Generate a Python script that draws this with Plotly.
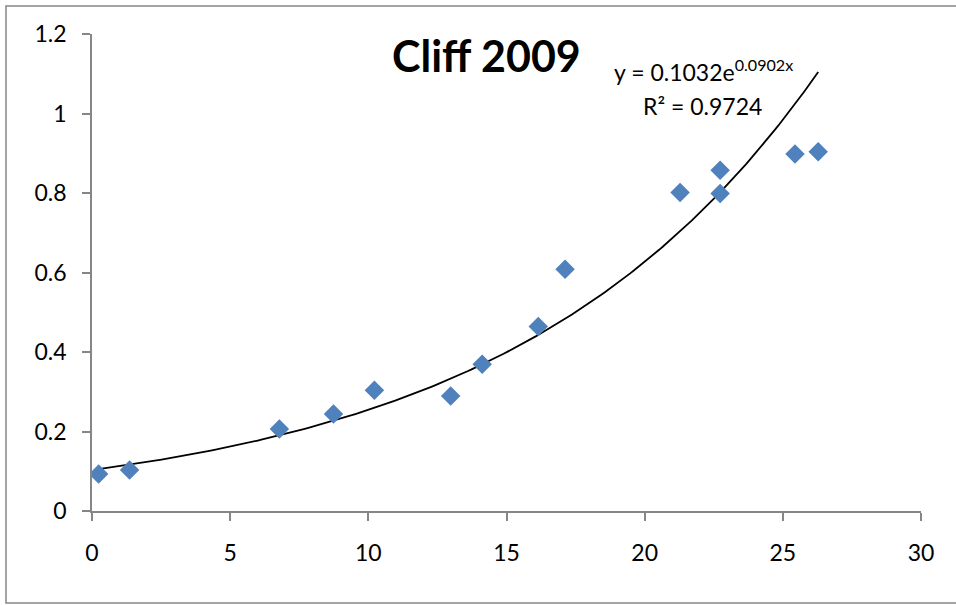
import numpy as np
import plotly.graph_objects as go

# Measurements (Cliff 2009)
x_vals = [0.24, 1.36, 6.78, 8.74, 10.22, 12.98, 14.12, 16.15, 17.12, 21.28, 22.73, 22.73, 25.44, 26.28]
y_vals = [0.093, 0.103, 0.206, 0.244, 0.304, 0.289, 0.369, 0.464, 0.608, 0.801, 0.857, 0.799, 0.898, 0.904]

# Exponential trendline y = a * exp(b x)
fit_a = 0.1032
fit_b = 0.0902
r_squared = 0.9724

x_ticks = [0, 5, 10, 15, 20, 25, 30]
y_ticks = [0, 0.2, 0.4, 0.6, 0.8, 1, 1.2]

W, H = 956, 605
ML, MR, MT, MB = 92, 35, 34, 94
PW, PH = W - ML - MR, H - MT - MB

GRAY = "#868686"
BLUE = "#4F81BD"
FONT = "Lato"

xf = np.linspace(min(x_vals), max(x_vals), 200)
yf = fit_a * np.exp(fit_b * xf)

fig = go.Figure()
fig.add_trace(go.Scatter(
    x=xf, y=yf, mode="lines",
    line=dict(color="black", width=1.8),
    hoverinfo="skip", showlegend=False,
))
fig.add_trace(go.Scatter(
    x=x_vals, y=y_vals, mode="markers",
    marker=dict(symbol="diamond", size=15, color=BLUE, line=dict(width=0)),
    showlegend=False,
))

axis_common = dict(
    showgrid=False, zeroline=False, showline=True,
    linecolor=GRAY, linewidth=1.5,
    ticks="outside", ticklen=8, tickwidth=1.5, tickcolor=GRAY,
    tickfont=dict(family=FONT, size=23, color="black"),
)

fig.update_xaxes(range=[0, 30], tickvals=x_ticks, ticklabelstandoff=13, **axis_common)
fig.update_yaxes(range=[0, 1.2], tickvals=y_ticks, ticktext=[f"{v:g}" for v in y_ticks],
                 ticklabelstandoff=11, **axis_common)


def px_to_paper_x(px):
    return (px - ML) / PW


def px_to_paper_y(py):
    return (H - MB - py) / PH


# Chart-area frame
fig.add_shape(
    type="rect", xref="paper", yref="paper",
    x0=px_to_paper_x(6), x1=px_to_paper_x(962),
    y0=px_to_paper_y(603), y1=px_to_paper_y(6),
    line=dict(color=GRAY, width=1.5), fillcolor="rgba(0,0,0,0)", layer="below",
)

fig.add_annotation(
    text="<b>Cliff 2009</b>", x=14.26, y=1.146, xref="x", yref="y",
    showarrow=False, font=dict(family=FONT, size=43, color="black"),
    xanchor="center", yanchor="middle",
)
fig.add_annotation(
    text=f"y = {fit_a:.4f}e<sup>{fit_b:.4f}x</sup>", x=22.14, y=1.107, xref="x", yref="y",
    showarrow=False, font=dict(family=FONT, size=23, color="black"),
    xanchor="center", yanchor="middle",
)
fig.add_annotation(
    text=f"R² = {r_squared:.4f}", x=22.1, y=1.018, xref="x", yref="y",
    showarrow=False, font=dict(family=FONT, size=23, color="black"),
    xanchor="center", yanchor="middle",
)

fig.update_layout(
    width=W, height=H,
    margin=dict(l=ML, r=MR, t=MT, b=MB),
    plot_bgcolor="white", paper_bgcolor="white",
    font=dict(family=FONT),
)

fig.write_html("out.html")
